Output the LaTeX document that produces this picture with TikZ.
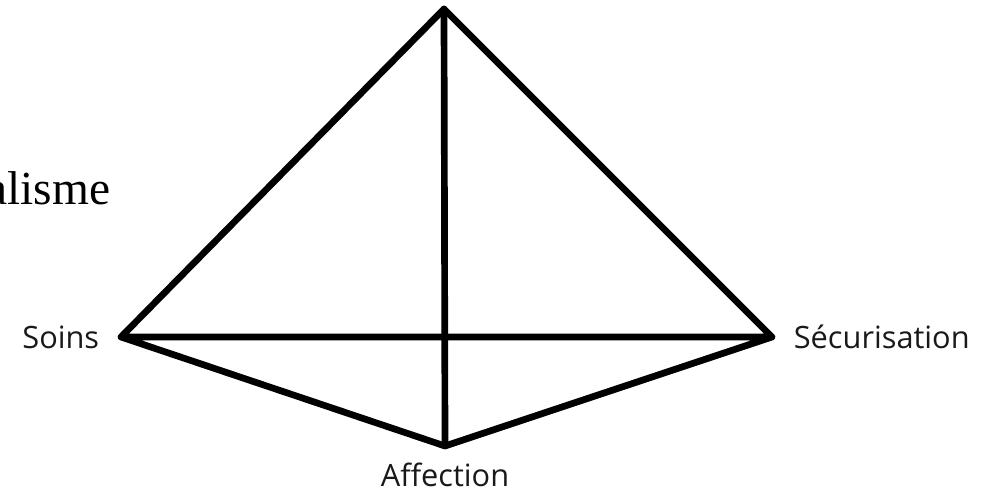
\documentclass[tikz,border=0pt]{standalone}
\usepackage{fontspec}
\setmainfont{Liberation Serif}
\newfontfamily\labelfont{Open Sans}
\usepackage{tkz-euclide}

\begin{document}
\begin{tikzpicture}[line width=3.8pt,line join=round,line cap=round,
    sommet/.style={font=\labelfont\fontsize{17.5}{20}\selectfont,text=black!90,inner sep=2pt}]
  \useasboundingbox (0,0) rectangle (20,9.84);
  \tkzDefPoint(8.88,9.66){H}
  \tkzDefPoint(2.42,3.1){S}
  \tkzDefPoint(15.44,3.1){E}
  \tkzDefPoint(8.9,0.92){A}
  \draw (S)--(H)--(E)--(S)--(A)--(E);
  \draw (H)--(A);
  \node[sommet,anchor=east] (soins) at ([xshift=-0.3cm]S) {Soins};
  \node[sommet,anchor=west] (secu) at ([xshift=0.3cm]E) {Sécurisation};
  \node[sommet,anchor=north] (affec) at ([yshift=-0.2cm]A) {Affection};
  \node[font=\fontsize{27}{30}\selectfont,anchor=base west,inner sep=0pt] (titre) at (-0.34,5.74) {alisme};
\end{tikzpicture}
\end{document}
